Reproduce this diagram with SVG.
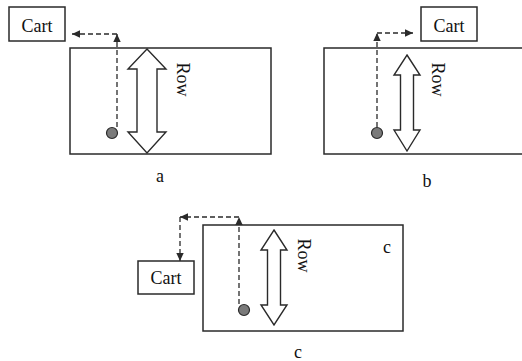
<svg xmlns="http://www.w3.org/2000/svg" width="522" height="361" viewBox="0 0 522 361">
<style>
.box{fill:#fff;stroke:#2a2a2a;stroke-width:1.5}
.dbl{fill:#fff;stroke:#2a2a2a;stroke-width:1.4;stroke-linejoin:miter}
.dot{fill:#7a7a7a;stroke:#2a2a2a;stroke-width:1.2}
.dash{fill:none;stroke:#2a2a2a;stroke-width:1.3;stroke-dasharray:5 3}
.t{font-family:"Liberation Serif","Times New Roman",serif;font-size:18px;fill:#111}
</style>
<defs>
<marker id="ah" viewBox="0 0 8 8" refX="8" refY="4" markerWidth="8" markerHeight="8" markerUnits="userSpaceOnUse" orient="auto">
<path d="M0,0.3 L8,4 L0,7.7 Z" fill="#2a2a2a"/>
</marker>
</defs>
<rect width="522" height="361" fill="#fff"/>

<g id="panel-a">
<rect class="box" x="70" y="48" width="201" height="106"/>
<g id="cart-a"><rect class="box" x="9" y="7" width="56" height="34"/><text class="t" x="37" y="32" text-anchor="middle">Cart</text></g>
<polygon class="dbl" points="147,49 166,69 157,69 157,132 166,132 147,153 128,132 137,132 137,69 128,69"/>
<text class="t" transform="translate(176.5,79.5) rotate(90)" text-anchor="middle">Row</text>
<circle class="dot" cx="112" cy="133" r="5.5"/>
<text class="t" x="160" y="182" text-anchor="middle">a</text>
</g>

<g id="panel-b">
<rect class="box" x="324" y="48" width="210" height="106"/>
<g id="cart-b"><rect class="box" x="421" y="7" width="56" height="34"/><text class="t" x="449" y="32" text-anchor="middle">Cart</text></g>
<polygon class="dbl" points="407,55 420,75 413.5,75 413.5,130 420,130 407,151 394,130 400.5,130 400.5,75 394,75"/>
<text class="t" transform="translate(431.5,79.5) rotate(90)" text-anchor="middle">Row</text>
<circle class="dot" cx="377" cy="133" r="5.5"/>
<text class="t" x="427" y="187" text-anchor="middle">b</text>
</g>

<g id="panel-c">
<rect class="box" x="203" y="225" width="200" height="106"/>
<g id="cart-c"><rect class="box" x="138" y="261" width="56" height="33"/><text class="t" x="166" y="284" text-anchor="middle">Cart</text></g>
<polygon class="dbl" points="274,230 287,250 280.5,250 280.5,305 287,305 274,325 261,305 267.5,305 267.5,250 261,250"/>
<text class="t" transform="translate(297.5,255.5) rotate(90)" text-anchor="middle">Row</text>
<circle class="dot" cx="244" cy="310" r="5.5"/>
<text class="t" x="387" y="253" text-anchor="middle">c</text>
<text class="t" x="298" y="358" text-anchor="middle">c</text>
</g>

<g id="connectors">
<path class="dash" d="M117,127 V34" marker-end="url(#ah)"/>
<path class="dash" d="M117,34 H72" marker-end="url(#ah)"/>
<path class="dash" d="M377,127 V33" marker-end="url(#ah)"/>
<path class="dash" d="M377,33 H413" marker-end="url(#ah)"/>
<path class="dash" d="M239,304 V217" marker-end="url(#ah)"/>
<path class="dash" d="M239,217 H180" marker-end="url(#ah)"/>
<path class="dash" d="M180,217 V261" marker-end="url(#ah)"/>
</g>
</svg>
